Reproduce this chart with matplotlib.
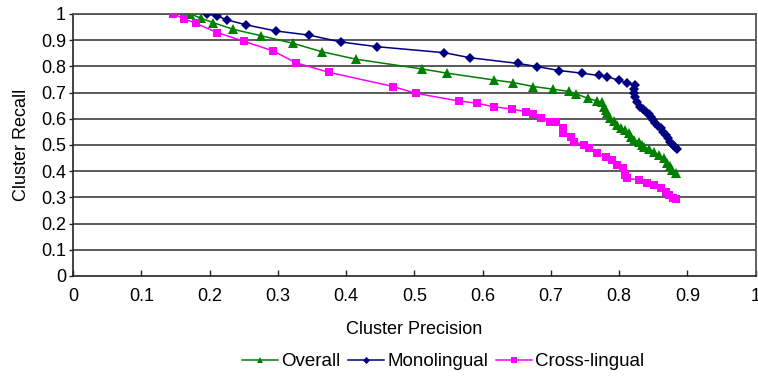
import matplotlib
matplotlib.use("Agg")
import matplotlib.pyplot as plt

# ---------------------------------------------------------------------------
# Data
# ---------------------------------------------------------------------------
overall_x = [0.172, 0.188, 0.205, 0.235, 0.275, 0.322, 0.364, 0.415, 0.511, 0.548,
             0.616, 0.645, 0.674, 0.703, 0.727, 0.737, 0.754, 0.767, 0.775, 0.778,
             0.780, 0.782, 0.787, 0.792, 0.797, 0.803, 0.809, 0.814, 0.818, 0.822,
             0.829, 0.833, 0.836, 0.844, 0.851, 0.858, 0.865, 0.870, 0.874, 0.878,
             0.883]
overall_y = [1.0, 0.983, 0.967, 0.941, 0.917, 0.888, 0.856, 0.827, 0.790, 0.774,
             0.748, 0.738, 0.723, 0.713, 0.704, 0.695, 0.678, 0.668, 0.662, 0.645,
             0.634, 0.621, 0.602, 0.590, 0.576, 0.566, 0.557, 0.545, 0.532, 0.519,
             0.513, 0.500, 0.491, 0.484, 0.474, 0.462, 0.449, 0.430, 0.418, 0.405,
             0.392]

mono_x = [0.196, 0.211, 0.226, 0.254, 0.297, 0.346, 0.392, 0.445, 0.544, 0.581,
          0.652, 0.680, 0.712, 0.745, 0.770, 0.782, 0.800, 0.811, 0.823, 0.822,
          0.822, 0.823, 0.826, 0.831, 0.835, 0.839, 0.843, 0.846, 0.850, 0.853,
          0.857, 0.861, 0.864, 0.868, 0.871, 0.875, 0.879, 0.882, 0.885]
mono_y = [1.0, 0.992, 0.977, 0.958, 0.935, 0.919, 0.893, 0.875, 0.852, 0.833,
          0.811, 0.799, 0.784, 0.774, 0.765, 0.761, 0.746, 0.736, 0.729, 0.715,
          0.700, 0.684, 0.665, 0.646, 0.637, 0.627, 0.617, 0.608, 0.595, 0.582,
          0.573, 0.564, 0.551, 0.538, 0.525, 0.513, 0.500, 0.492, 0.484]

cross_x = [0.147, 0.163, 0.180, 0.211, 0.250, 0.293, 0.326, 0.375, 0.469, 0.502,
           0.565, 0.592, 0.616, 0.643, 0.663, 0.674, 0.686, 0.699, 0.707, 0.717,
           0.717, 0.729, 0.734, 0.748, 0.756, 0.768, 0.780, 0.790, 0.797, 0.805,
           0.808, 0.812, 0.829, 0.841, 0.851, 0.861, 0.868, 0.873, 0.879, 0.883]
cross_y = [1.0, 0.981, 0.964, 0.929, 0.896, 0.859, 0.814, 0.777, 0.723, 0.697,
           0.668, 0.659, 0.646, 0.637, 0.627, 0.617, 0.602, 0.589, 0.586, 0.564,
           0.547, 0.532, 0.513, 0.500, 0.487, 0.468, 0.455, 0.443, 0.424, 0.411,
           0.385, 0.373, 0.366, 0.354, 0.347, 0.335, 0.322, 0.309, 0.297, 0.293]

x_ticks = [0, 0.1, 0.2, 0.3, 0.4, 0.5, 0.6, 0.7, 0.8, 0.9, 1]
y_ticks = [0, 0.1, 0.2, 0.3, 0.4, 0.5, 0.6, 0.7, 0.8, 0.9, 1]
tick_labels = ["0", "0.1", "0.2", "0.3", "0.4", "0.5", "0.6", "0.7", "0.8", "0.9", "1"]

# ---------------------------------------------------------------------------
# Figure
# ---------------------------------------------------------------------------
plt.rcParams["font.family"] = ["Liberation Sans", "DejaVu Sans"]

fig = plt.figure(figsize=(7.58, 3.76), dpi=100, facecolor="white")
ax = fig.add_axes([0.0963, 0.266, 0.9007, 0.697])

ax.set_xlim(0, 1)
ax.set_ylim(0, 1)

# horizontal grid, Excel style
for yv in y_ticks[1:]:
    ax.axhline(yv, color="#4d4d4d", lw=1.3, zorder=1)

ax.plot(overall_x, overall_y, color="#008000", lw=1.1, marker="^",
        markersize=7, markeredgewidth=0, label="Overall", zorder=3)
ax.plot(mono_x, mono_y, color="#000080", lw=1.1, marker="D",
        markersize=5.5, markeredgewidth=0, label="Monolingual", zorder=3)
ax.plot(cross_x, cross_y, color="#ff00ff", lw=1.1, marker="s",
        markersize=6, markeredgewidth=0, label="Cross-lingual", zorder=3)

ax.set_xticks(x_ticks)
ax.set_xticklabels(tick_labels)
ax.set_yticks(y_ticks)
ax.set_yticklabels(tick_labels)
ax.tick_params(axis="x", direction="in", length=4, width=1, labelsize=13, pad=9, color="#222")
ax.tick_params(axis="y", direction="out", length=3, width=1, labelsize=13, pad=2, color="#222")

for s in ("left", "bottom"):
    ax.spines[s].set_color("#222")
    ax.spines[s].set_linewidth(1.2)
for s in ("top", "right"):
    ax.spines[s].set_color("#555")
    ax.spines[s].set_linewidth(1.3)

ax.set_xlabel("Cluster Precision", fontsize=13, labelpad=11)
ax.set_ylabel("Cluster Recall", fontsize=13, labelpad=8)

fig.legend(loc="lower center", bbox_to_anchor=(0.585, -0.03), ncol=3, frameon=False,
           fontsize=13.5, handlelength=1.9, handletextpad=0.2, columnspacing=0.4,
           markerscale=0.65)

fig.savefig("out.png", dpi=100, facecolor="white")
plt.close(fig)
